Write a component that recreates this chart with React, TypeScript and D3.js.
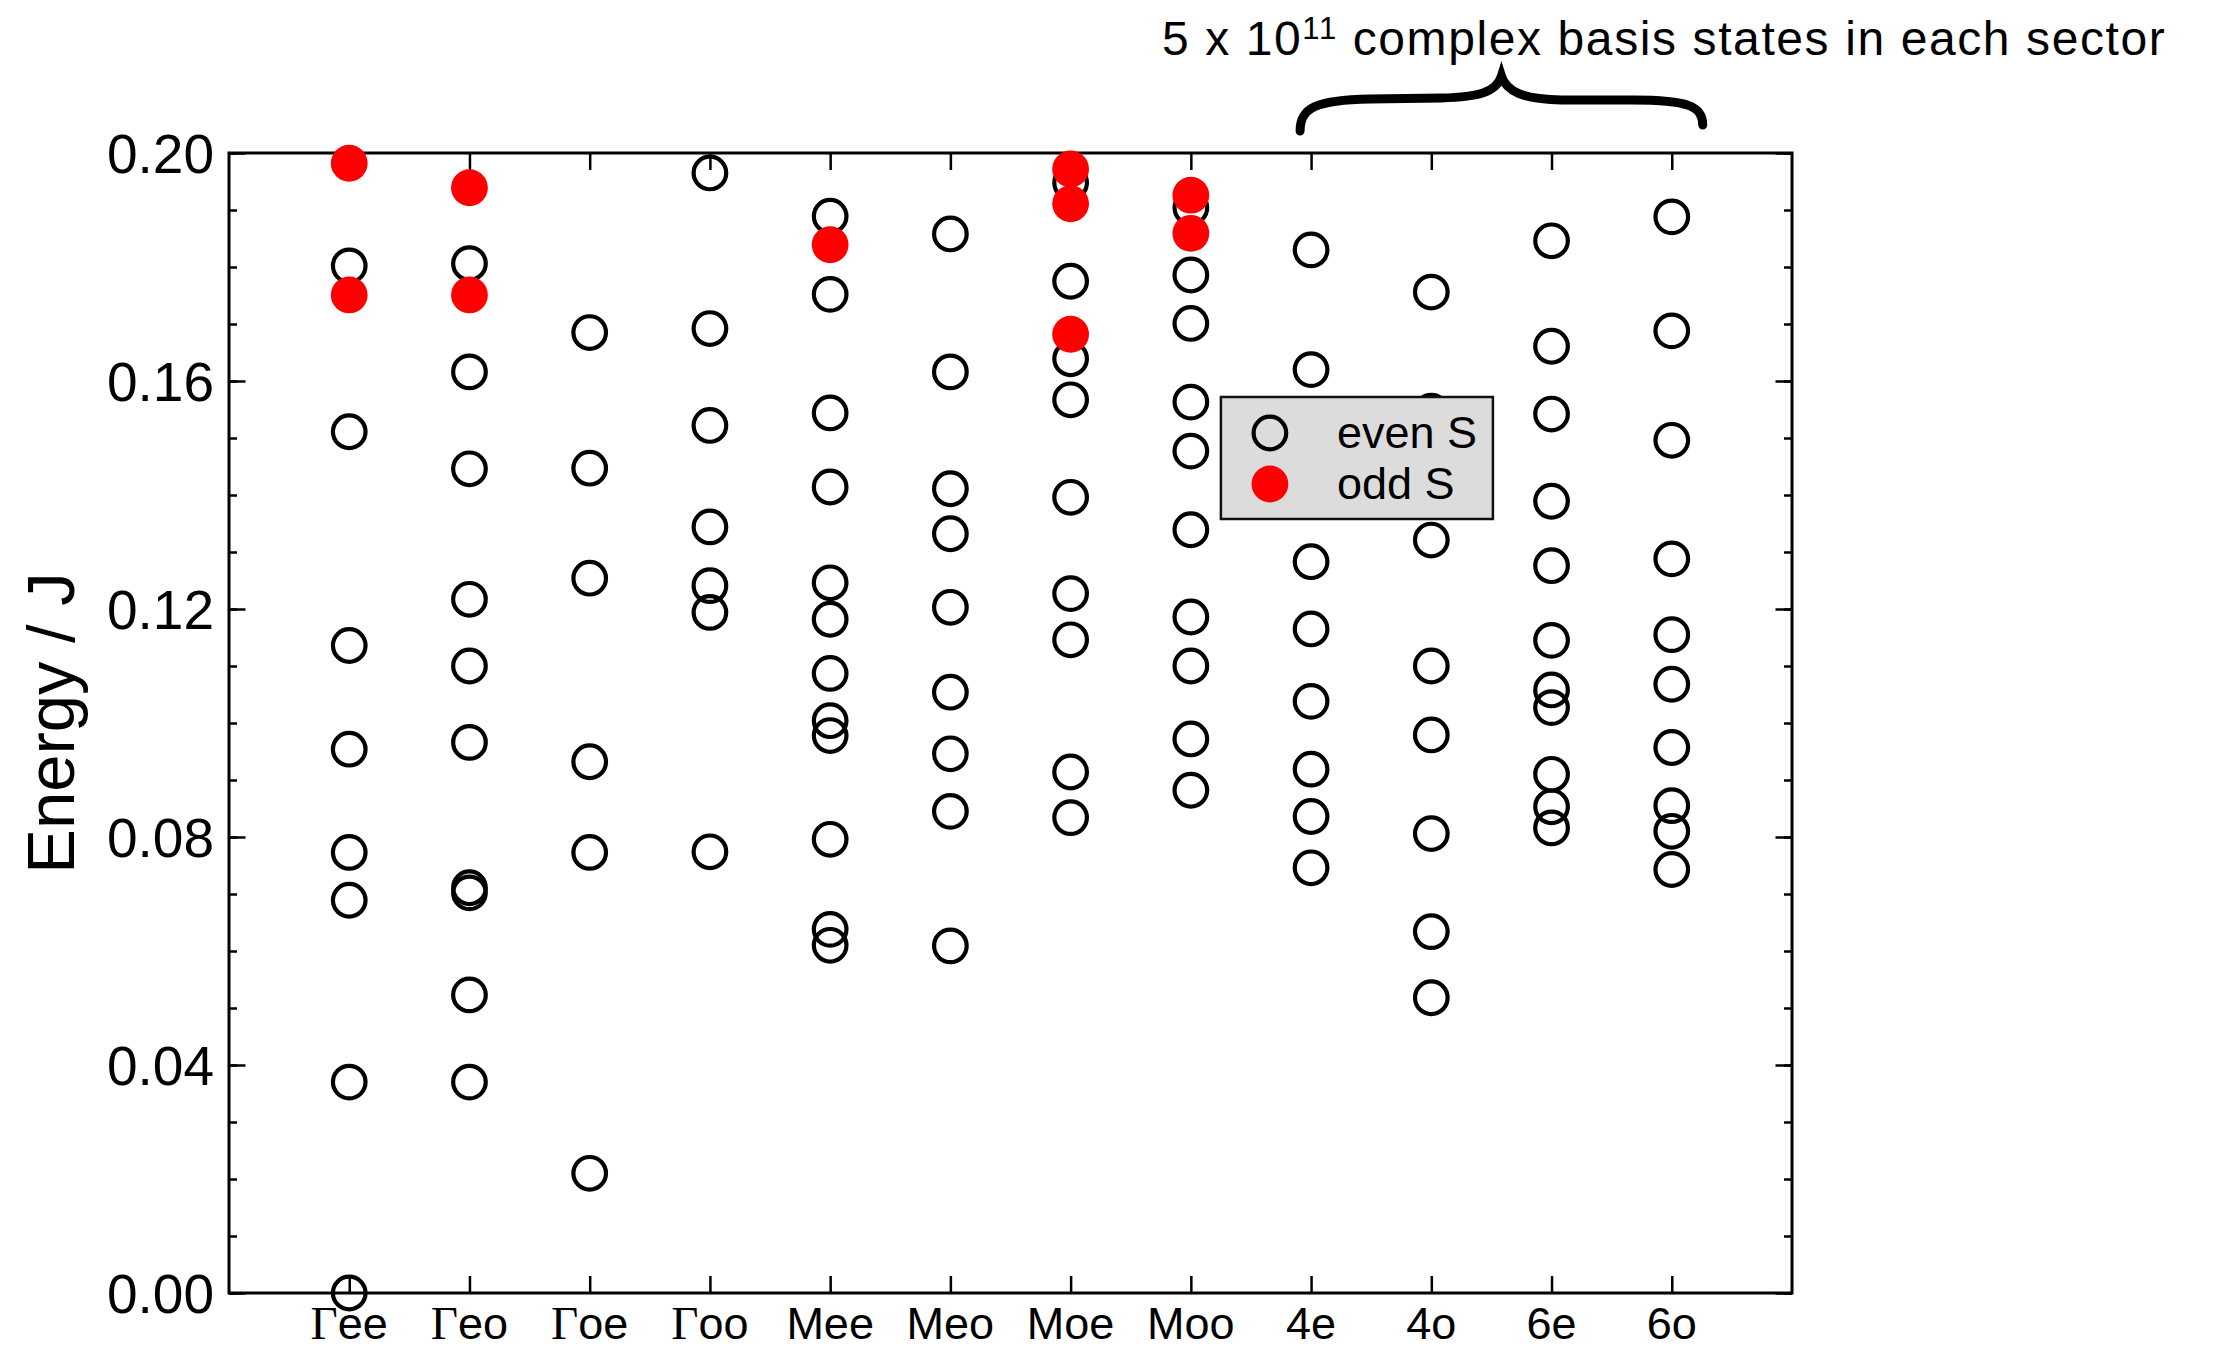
import { useEffect, useRef } from "react";
import * as d3 from "d3";

// sectors along the x axis
const categories = ["Γee", "Γeo", "Γoe", "Γoo", "Mee", "Meo", "Moe", "Moo", "4e", "4o", "6e", "6o"];

// energies (units of J) read per sector, even S (open circles)
const evenS = [
  [0.1802, 0.1511, 0.1136, 0.0954, 0.0773, 0.0689, 0.037, 0.0],
  [0.1806, 0.1616, 0.1446, 0.1217, 0.11, 0.0966, 0.0711, 0.0702, 0.0523, 0.037],
  [0.1685, 0.1447, 0.1254, 0.0932, 0.0773, 0.021],
  [0.1965, 0.1692, 0.1522, 0.1344, 0.1241, 0.1194, 0.0774],
  [0.1889, 0.1752, 0.1544, 0.1414, 0.1246, 0.1182, 0.1087, 0.1004, 0.0978, 0.0796, 0.0638, 0.061],
  [0.1858, 0.1616, 0.1411, 0.1332, 0.1203, 0.1054, 0.0946, 0.0845, 0.0609],
  [0.1948, 0.1775, 0.1639, 0.1567, 0.1396, 0.1227, 0.1146, 0.0914, 0.0834],
  [0.1904, 0.1786, 0.1701, 0.1563, 0.1477, 0.1339, 0.1186, 0.11, 0.0972, 0.0882],
  [0.183, 0.162, 0.1283, 0.1165, 0.1038, 0.0919, 0.0836, 0.0746],
  [0.1756, 0.1547, 0.1321, 0.11, 0.0979, 0.0806, 0.0634, 0.0518],
  [0.1846, 0.1661, 0.1542, 0.1389, 0.1276, 0.1145, 0.1058, 0.1027, 0.091, 0.0853, 0.0816],
  [0.1888, 0.1688, 0.1496, 0.1288, 0.1155, 0.1068, 0.0957, 0.0855, 0.081, 0.0743],
];

// odd S (red dots)
const oddS = [
  [0.1982, 0.1751],
  [0.1939, 0.1751],
  [],
  [],
  [0.1839],
  [],
  [0.1972, 0.1911, 0.1682],
  [0.1926, 0.1859],
  [],
  [],
  [],
  [],
];

const yMajor = [0, 0.04, 0.08, 0.12, 0.16, 0.2];
const yMinor = d3.range(0, 21).map(k => k / 100);

const legendItems = ["even S", "odd S"];
const titleMain = "5 x 10";
const titleSup = "11";
const titleRest = " complex basis states in each sector";

const sans = "'Liberation Sans', Arial, Helvetica, sans-serif";
const serif = "'Liberation Serif', 'Times New Roman', serif";

export default function App() {
  const ref = useRef(null);

  useEffect(() => {
    const svg = d3.select(ref.current);
    svg.selectAll("*").remove();

    const width = 2216;
    const height = 1350;
    const margin = { top: 153, right: 424, bottom: 57, left: 229 };

    svg.attr("width", width).attr("height", height);
    svg.append("rect").attr("width", width).attr("height", height).attr("fill", "#fff");

    const x = d3.scaleLinear()
      .domain([-1, categories.length])
      .range([margin.left, width - margin.right]);

    const y = d3.scaleLinear()
      .domain([0, 0.2])
      .range([height - margin.bottom, margin.top]);

    const idx = d3.range(categories.length);

    // ticks, all pointing inward
    const styleAxis = g => {
      g.select(".domain").remove();
      g.selectAll("line").attr("stroke", "#000").attr("stroke-width", 2.5);
    };

    svg.append("g")
      .attr("transform", `translate(0,${y(0)})`)
      .call(d3.axisBottom(x).tickValues(idx).tickSize(-17).tickSizeOuter(0).tickFormat(() => ""))
      .call(styleAxis);

    svg.append("g")
      .attr("transform", `translate(0,${y(0.2)})`)
      .call(d3.axisTop(x).tickValues(idx).tickSize(-17).tickSizeOuter(0).tickFormat(() => ""))
      .call(styleAxis);

    svg.append("g")
      .attr("transform", `translate(${x(-1)},0)`)
      .call(d3.axisLeft(y).tickValues(yMinor).tickSize(-8).tickSizeOuter(0).tickFormat(() => ""))
      .call(styleAxis);

    svg.append("g")
      .attr("transform", `translate(${x(categories.length)},0)`)
      .call(d3.axisRight(y).tickValues(yMinor).tickSize(-8).tickSizeOuter(0).tickFormat(() => ""))
      .call(styleAxis);

    svg.append("g")
      .attr("transform", `translate(${x(categories.length)},0)`)
      .call(d3.axisRight(y).tickValues(yMajor).tickSize(-16.5).tickSizeOuter(0).tickFormat(() => ""))
      .call(styleAxis);

    const yAxis = svg.append("g")
      .attr("transform", `translate(${x(-1)},0)`)
      .call(d3.axisLeft(y).tickValues(yMajor).tickSize(-16.5).tickSizeOuter(0).tickPadding(15).tickFormat(d3.format(".2f")))
      .call(styleAxis);
    yAxis.selectAll("text")
      .attr("font-family", sans)
      .attr("font-size", 55)
      .attr("fill", "#000")
      .attr("dy", "0.36em");

    // frame
    svg.append("rect")
      .attr("x", x(-1))
      .attr("y", y(0.2))
      .attr("width", x(categories.length) - x(-1))
      .attr("height", y(0) - y(0.2))
      .attr("fill", "none")
      .attr("stroke", "#000")
      .attr("stroke-width", 3);

    // category labels (Γ set in a serif face)
    const lab = svg.append("g")
      .selectAll("text")
      .data(categories)
      .join("text")
      .attr("x", (d, i) => x(i))
      .attr("y", y(0) + 46)
      .attr("text-anchor", "middle")
      .attr("font-family", sans)
      .attr("font-size", 45)
      .attr("fill", "#000");
    lab.each(function (d) {
      const t = d3.select(this);
      if (d.startsWith("Γ")) {
        t.append("tspan").attr("font-family", serif).attr("font-size", 47).text("Γ");
        t.append("tspan").text(d.slice(1));
      } else {
        t.text(d);
      }
    });

    // y label
    svg.append("text")
      .attr("transform", `translate(74,${(y(0) + y(0.2)) / 2}) rotate(-90)`)
      .attr("text-anchor", "middle")
      .attr("font-family", sans)
      .attr("font-size", 67)
      .attr("fill", "#000")
      .text("Energy / J");

    // points
    const even = categories.flatMap((c, i) => evenS[i].map(v => ({ i, v })));
    const odd = categories.flatMap((c, i) => oddS[i].map(v => ({ i, v })));

    svg.append("g")
      .selectAll("circle")
      .data(even)
      .join("circle")
      .attr("cx", d => x(d.i))
      .attr("cy", d => y(d.v))
      .attr("r", 16.3)
      .attr("fill", "none")
      .attr("stroke", "#000")
      .attr("stroke-width", 4.2);

    svg.append("g")
      .selectAll("circle")
      .data(odd)
      .join("circle")
      .attr("cx", d => x(d.i))
      .attr("cy", d => y(d.v))
      .attr("r", 18.4)
      .attr("fill", "#ff0000");

    // legend
    const lg = svg.append("g").attr("transform", `translate(${x(7.25)},397)`);
    lg.append("rect")
      .attr("width", 272)
      .attr("height", 122)
      .attr("fill", "#dcdcdc")
      .attr("stroke", "#111")
      .attr("stroke-width", 2.5);
    lg.append("circle")
      .attr("cx", 49).attr("cy", 36).attr("r", 16.3)
      .attr("fill", "none").attr("stroke", "#000").attr("stroke-width", 4.2);
    lg.append("circle")
      .attr("cx", 49).attr("cy", 87).attr("r", 18.4)
      .attr("fill", "#ff0000");
    lg.selectAll("text.leg")
      .data(legendItems)
      .join("text")
      .attr("class", "leg")
      .attr("x", 116)
      .attr("y", (d, k) => 51 + k * 51)
      .attr("font-family", sans)
      .attr("font-size", 45)
      .attr("fill", "#000")
      .text(d => d);

    // brace over the 4e..6o sectors
    const L = x(8) - 11;
    const R = x(11) + 31;
    const M = (L + R) / 2;
    svg.append("path")
      .attr("d", `M${L},131 C${L},108 ${L + 15},100 ${L + 70},99 L${M - 60},98 C${M - 22},97 ${M - 5},92 ${M},76 ` +
        `C${M + 5},92 ${M + 22},99 ${M + 60},100 L${R - 70},100 C${R - 15},100 ${R},106 ${R},125`)
      .attr("fill", "none")
      .attr("stroke", "#000")
      .attr("stroke-width", 9)
      .attr("stroke-linecap", "round");

    // annotation
    const title = svg.append("text")
      .attr("x", 1162)
      .attr("y", 55)
      .attr("font-family", sans)
      .attr("font-size", 48)
      .attr("letter-spacing", 1.6)
      .attr("fill", "#000");
    title.append("tspan").text(titleMain);
    title.append("tspan").attr("font-size", 31).attr("dy", -16).text(titleSup);
    title.append("tspan").attr("dy", 16).text(titleRest);
  }, []);

  return <svg ref={ref} style={{ position: "absolute", left: 0, top: 0, display: "block" }}></svg>;
}
